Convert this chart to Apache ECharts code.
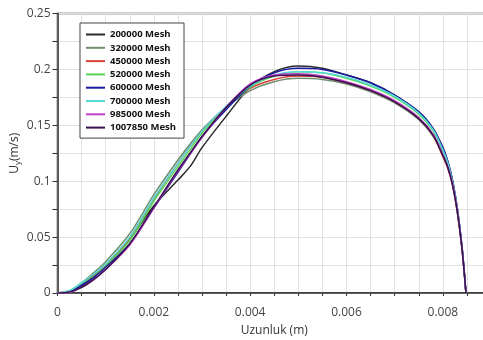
<!DOCTYPE html>
<html><head><meta charset="utf-8">
<script src="https://cdn.jsdelivr.net/npm/echarts@6/dist/echarts.min.js"></script>
<style>html,body{margin:0;padding:0;background:#fff}#c{width:483px;height:340px}</style>
</head><body><div id="c"></div>
<script>
const xValues = [0, 0.00025, 0.0005, 0.00075, 0.001, 0.0015, 0.002, 0.0025, 0.00275, 0.003, 0.0035, 0.004, 0.0045, 0.005, 0.0055, 0.006, 0.0065, 0.007, 0.0075, 0.0078, 0.008, 0.0081, 0.0082, 0.0083, 0.0084, 0.00848];
const seriesNames = ['200000 Mesh','320000 Mesh','450000 Mesh','520000 Mesh','600000 Mesh','700000 Mesh','985000 Mesh','1007850 Mesh'];
const mesh200000 = [0,0.001,0.006,0.014,0.024,0.048,0.078,0.101,0.113,0.130,0.158,0.184,0.198,0.203,0.201,0.195,0.188,0.177,0.162,0.147,0.130,0.118,0.101,0.076,0.040,0];
const mesh320000 = [0,0.002,0.009,0.018,0.028,0.053,0.088,0.119,0.133,0.146,0.166,0.181,0.189,0.192,0.191,0.187,0.180,0.170,0.155,0.140,0.123,0.112,0.097,0.072,0.038,0];
const mesh450000 = [0,0.0015,0.008,0.016,0.025,0.049,0.084,0.116,0.131,0.145,0.166,0.183,0.191,0.194,0.193,0.188,0.181,0.171,0.156,0.141,0.122,0.112,0.097,0.073,0.039,0];
const mesh520000 = [0,0.002,0.008,0.015,0.024,0.047,0.082,0.113,0.128,0.143,0.165,0.184,0.194,0.198,0.197,0.192,0.185,0.175,0.160,0.145,0.127,0.116,0.100,0.075,0.040,0];
const mesh600000 = [0,0.001,0.007,0.014,0.023,0.044,0.076,0.108,0.124,0.140,0.164,0.185,0.197,0.201,0.200,0.195,0.188,0.177,0.162,0.147,0.130,0.118,0.101,0.076,0.041,0];
const mesh700000 = [0,0.002,0.009,0.017,0.026,0.050,0.085,0.116,0.131,0.145,0.167,0.185,0.195,0.198,0.197,0.193,0.186,0.176,0.161,0.146,0.128,0.117,0.100,0.075,0.040,0];
const mesh985000 = [0,0.0005,0.005,0.012,0.021,0.043,0.076,0.109,0.124,0.139,0.166,0.187,0.195,0.196,0.194,0.189,0.182,0.172,0.157,0.142,0.124,0.113,0.098,0.074,0.039,0];
const mesh1007850 = [0,0.001,0.005,0.012,0.021,0.044,0.077,0.110,0.125,0.140,0.166,0.186,0.194,0.195,0.193,0.188,0.181,0.171,0.156,0.141,0.123,0.113,0.097,0.073,0.039,0];
const xTickLabels = ['0','0.002','0.004','0.006','0.008'];
const yTickLabels = ['0','0.05','0.1','0.15','0.2','0.25'];

const allSeries = [mesh200000, mesh320000, mesh450000, mesh520000, mesh600000, mesh700000, mesh985000, mesh1007850];
const colors = ['#2a2a2a','#6f8f6f','#d9403a','#55d655','#1a1aa0','#55d8d8','#c040c8','#3a1050'];

const chart = echarts.init(document.getElementById('c'));
function fmt(list, step, every){
  return function(v){
    const k = Math.round(v/step);
    if (k % every !== 0) return '';
    return list[k/every] !== undefined ? list[k/every] : '';
  };
}
chart.setOption({
  animation:false,
  color: colors,
  grid:{left:57.5, top:13.5, bottom:47, right:-8, outerBoundsMode:'none', containLabel:false, show:true, borderColor:'#333', borderWidth:1.5, backgroundColor:'transparent'},
  legend:{
    orient:'vertical', left:80, top:23, width:101,
    backgroundColor:'#fff', borderColor:'#444', borderWidth:1,
    padding:[6,8,5,6], icon:'rect', itemWidth:19, itemHeight:2, itemGap:2.3,
    textStyle:{fontFamily:'Open Sans', fontWeight:'bold', fontSize:9.5, color:'#111', lineHeight:11},
    data: seriesNames
  },
  xAxis:{
    type:'value', min:0, max:0.009, interval:0.0005,
    name:'Uzunluk (m)', nameLocation:'middle', nameGap:32, nameMoveOverlap:false,
    nameTextStyle:{fontFamily:'Open Sans', fontSize:12, color:'#333'},
    axisLine:{onZero:false, lineStyle:{color:'#333', width:1.5}},
    axisTick:{show:true, length:3, lineStyle:{color:'#333'}},
    axisLabel:{formatter:fmt(xTickLabels,0.0005,4), fontFamily:'Open Sans', fontSize:12, color:'#444', margin:14},
    splitLine:{show:true, lineStyle:{color:'#e2e2e2', width:1}}
  },
  yAxis:{
    type:'value', min:0, max:0.25, interval:0.025,
    name:'U{s|y}(m/s)', nameLocation:'middle', nameGap:36, nameRotate:90, nameMoveOverlap:false,
    nameTextStyle:{fontFamily:'Open Sans', fontSize:12, color:'#333', rich:{s:{fontFamily:'Open Sans', fontSize:8, color:'#333', verticalAlign:'bottom', padding:[6,0,0,0]}}},
    axisLine:{show:true, lineStyle:{color:'#333', width:1.5}},
    axisTick:{show:true, length:5, lineStyle:{color:'#333'}},
    axisLabel:{formatter:fmt(yTickLabels,0.025,2), fontFamily:'Open Sans', fontSize:12, color:'#444', margin:7},
    splitLine:{show:true, lineStyle:{color:'#e2e2e2', width:1}}
  },
  series: allSeries.map((d,i)=>({
    name:seriesNames[i], type:'line', symbol:'none', smooth:0.3,
    lineStyle:{width:1.5, color:colors[i]},
    data: xValues.map((x,j)=>[x,d[j]])
  }))
});
</script></body></html>
